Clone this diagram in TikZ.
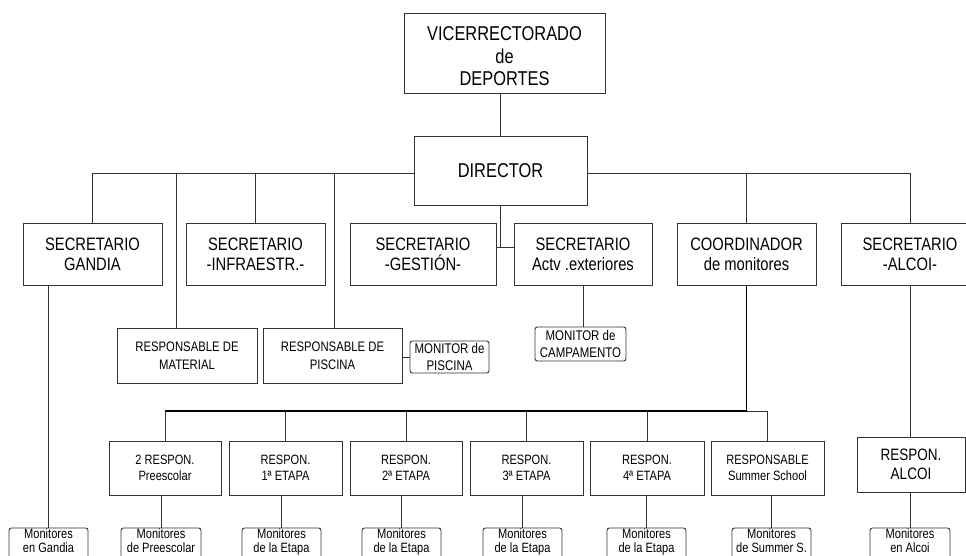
\documentclass[tikz,border=0pt]{standalone}
\usepackage{fontspec}
\setmainfont[FakeStretch=0.82]{Liberation Sans}
\newcommand{\lowpad}{\rule[-6.5pt]{0pt}{6.5pt}}
\newcommand{\toppad}{\rule{0pt}{20.5pt}}
\begin{document}
\begin{tikzpicture}[x=1pt,y=-1pt,
  box/.style={draw=black!80, line width=0.9pt, inner sep=0pt, align=center, text=black},
  mbox/.style={box, rounded corners=2.5pt},
  link/.style={draw=black!80, line width=0.9pt},
  thicklink/.style={draw=black, line width=1.8pt},
  fbig/.style={font=\fontsize{20}{22.5}\selectfont},
  fsec/.style={font=\fontsize{18}{20}\selectfont},
  fresp/.style={font=\fontsize{13.8}{17.5}\selectfont},
  fmon/.style={font=\fontsize{14}{17}\selectfont},
  frow/.style={font=\fontsize{13.5}{16.5}\selectfont},
  fmb/.style={font=\fontsize{13.5}{14}\selectfont},
]
\useasboundingbox (0,0) rectangle (966,556);
\fill[white] (0,0) rectangle (966,556);
\clip (0,0) rectangle (966,556);

% top
\node[box,fbig,minimum width=201pt,minimum height=80pt] (vice) at (504.5,53) {\toppad VICERRECTORADO\\de\\DEPORTES};
\node[box,fbig,minimum width=173pt,minimum height=69pt] (dir) at (500.5,170.5) {DIRECTOR};

% secretaries
\node[box,fsec,minimum width=139pt,minimum height=62pt] (gandia) at (92.5,254) {SECRETARIO\\GANDIA};
\node[box,fsec,minimum width=139pt,minimum height=62pt] (infra) at (255.5,254) {SECRETARIO\\-INFRAESTR.-};
\node[box,fsec,minimum width=146pt,minimum height=62pt] (gestion) at (423,254) {SECRETARIO\\-GESTIÓN-};
\node[box,fsec,minimum width=138pt,minimum height=62pt] (actv) at (583,254) {SECRETARIO\\Actv .exteriores};
\node[box,fsec,minimum width=139pt,minimum height=62pt] (coord) at (746.5,254) {COORDINADOR\\de monitores};
\node[box,fsec,minimum width=138pt,minimum height=62pt] (alcoi) at (910,254) {SECRETARIO\\-ALCOI-};

% responsables
\node[box,fresp,minimum width=140pt,minimum height=55pt] (material) at (187,355.5) {RESPONSABLE DE\\MATERIAL};
\node[box,fresp,minimum width=139pt,minimum height=55pt] (piscina) at (332.5,355.5) {RESPONSABLE DE\\PISCINA};
\node[mbox,fmon,minimum width=79pt,minimum height=32pt] (monpis) at (449.5,357) {MONITOR de\\PISCINA};
\node[mbox,fmon,minimum width=91pt,minimum height=34pt] (camp) at (580.5,344) {MONITOR de\\CAMPAMENTO};

% row of responsables
\node[box,frow,minimum width=112pt,minimum height=54pt] (r0) at (165,468) {2 RESPON.\\Preescolar};
\node[box,frow,minimum width=113pt,minimum height=54pt] (r1) at (285.5,468) {RESPON.\\1ª ETAPA};
\node[box,frow,minimum width=112pt,minimum height=54pt] (r2) at (406,468) {RESPON.\\2ª ETAPA};
\node[box,frow,minimum width=113pt,minimum height=54pt] (r3) at (526.5,468) {RESPON.\\3ª ETAPA};
\node[box,frow,minimum width=114pt,minimum height=54pt] (r4) at (647,468) {RESPON.\\4ª ETAPA};
\node[box,frow,minimum width=113pt,minimum height=54pt] (r5) at (767.5,468) {RESPONSABLE\\Summer School};
\node[box,font=\fontsize{16.5}{18.7}\selectfont,minimum width=108pt,minimum height=55pt] (ralcoi) at (911,464.5) {RESPON.\\ALCOI};

% monitors
\node[mbox,fmb,minimum width=79pt,minimum height=31pt] (mg) at (48.5,543.5) {Monitores\\en Gandia\lowpad};
\node[mbox,fmb,minimum width=80pt,minimum height=31pt] (m0) at (161,543.5) {Monitores\\de Preescolar\lowpad};
\node[mbox,fmb,minimum width=79pt,minimum height=31pt] (m1) at (281.5,543.5) {Monitores\\de la Etapa\lowpad};
\node[mbox,fmb,minimum width=79pt,minimum height=31pt] (m2) at (401.5,543.5) {Monitores\\de la Etapa\lowpad};
\node[mbox,fmb,minimum width=79pt,minimum height=31pt] (m3) at (522.5,543.5) {Monitores\\de la Etapa\lowpad};
\node[mbox,fmb,minimum width=79pt,minimum height=31pt] (m4) at (646.5,543.5) {Monitores\\de la Etapa\lowpad};
\node[mbox,fmb,minimum width=79pt,minimum height=31pt] (m5) at (771.5,543.5) {Monitores\\de Summer S.\lowpad};
\node[mbox,fmb,minimum width=80pt,minimum height=31pt] (ma) at (910,543.5) {Monitores\\en Alcoi\lowpad};

% helper coordinates
\coordinate (hb) at (0,173);
\coordinate (dm) at (176,173);
\coordinate (dp) at (334,173);
\coordinate (gj) at (500,247);
\coordinate (bus) at (746.5,411);

% connectors
\draw[link] (dir.north) -- (dir.north |- vice.south);
\draw[link] (dir.west |- hb) -- (gandia.north |- hb) -- (gandia.north);
\draw[link] (dm) -- (dm |- material.north);
\draw[link] (infra.north |- hb) -- (infra.north);
\draw[link] (dp) -- (dp |- piscina.north);
\draw[link] (dir.east |- hb) -- (alcoi.north |- hb) -- (alcoi.north);
\draw[link] (coord.north |- hb) -- (coord.north);
\draw[link] (gj |- dir.south) -- (gj);
\draw[link] (gestion.east |- gj) -- (actv.west |- gj);
\draw[link] (actv.south) -- (actv.south |- camp.north);
\draw[link] (piscina.east |- monpis.west) -- (monpis.west);
\draw[link] (mg.north) -- (mg.north |- gandia.south);
\draw[link] (alcoi.south) -- (alcoi.south |- ralcoi.north);
\draw[link] (ma.north) -- (ma.north |- ralcoi.south);

\draw[thicklink] (coord.south) -- (bus) -- (bus -| r0.north);
\draw[link] (bus) -- (bus -| r5.north);
\foreach \r in {r0,r1,r2,r3,r4,r5} \draw[link] (\r.north) -- (\r.north |- bus);
\foreach \m/\r in {m0/r0,m1/r1,m2/r2,m3/r3,m4/r4,m5/r5} \draw[link] (\m.north) -- (\m.north |- \r.south);
\end{tikzpicture}
\end{document}
